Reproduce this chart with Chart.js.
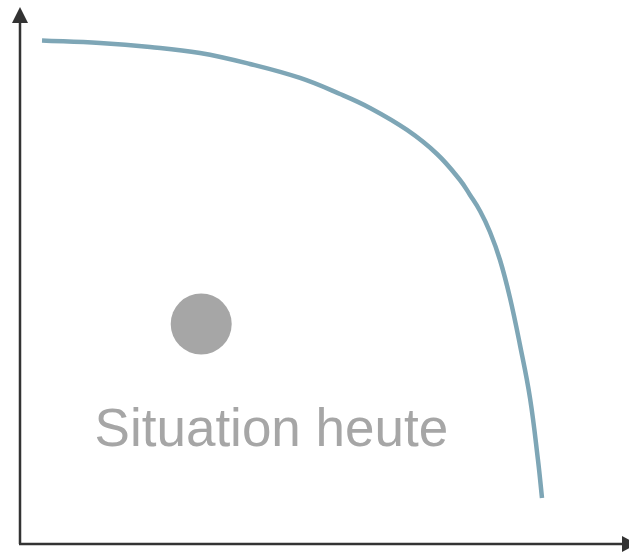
<!DOCTYPE html>
<html>
<head>
<meta charset="utf-8">
<script src="https://cdn.jsdelivr.net/npm/chart.js@4/dist/chart.umd.min.js"></script>
<style>
    body { margin: 0; background: #fff; }
    #wrap { width: 629px; height: 553px; position: relative; }
</style>
</head>
<body>
<div id="wrap"><canvas id="charFrontier"></canvas></div>
<script>
// curve (x and y in axis units, origin at the axes corner)
const curveX = [3.67, 13.33, 21.67, 30, 38.33, 46.67, 53.33, 58.33, 64.5, 69.5, 73.33, 75, 76.67, 78.33, 80, 81.67, 83.33, 85, 86.33, 87];
const curveY = [96.83, 96.35, 95.58, 94.42, 92.31, 89.62, 86.54, 83.85, 79.62, 75, 70, 67.12, 64.04, 60, 54.62, 47.31, 38.27, 28.08, 16.15, 8.85];

const todayX = [30.2];
const todayY = [42.3];
const todayLabel = 'Situation heute';
const labelPos = [41.9, 18.8];

const axesArrows = {
    id: 'axesArrows',
    afterDraw: function (chart) {
        const ctx = chart.ctx;
        const a = chart.chartArea;
        ctx.save();
        ctx.strokeStyle = '#333333';
        ctx.fillStyle = '#333333';
        ctx.lineWidth = 2.5;
        ctx.beginPath();
        ctx.moveTo(a.left, a.bottom);
        ctx.lineTo(a.left, a.top - 4);
        ctx.moveTo(a.left - 1, a.bottom);
        ctx.lineTo(a.right + 4, a.bottom);
        ctx.stroke();
        // arrow heads
        ctx.beginPath();
        ctx.moveTo(a.left, a.top - 17);
        ctx.lineTo(a.left - 8, a.top - 1);
        ctx.lineTo(a.left + 8, a.top - 1);
        ctx.closePath();
        ctx.fill();
        ctx.beginPath();
        ctx.moveTo(a.right + 17, a.bottom);
        ctx.lineTo(a.right + 2, a.bottom - 8);
        ctx.lineTo(a.right + 2, a.bottom + 8);
        ctx.closePath();
        ctx.fill();
        ctx.restore();
    }
};

const pointLabel = {
    id: 'pointLabel',
    afterDatasetsDraw: function (chart) {
        const ctx = chart.ctx;
        const x = chart.scales.x.getPixelForValue(labelPos[0]);
        const y = chart.scales.y.getPixelForValue(labelPos[1]);
        ctx.save();
        ctx.font = '53px "Liberation Sans", Arial, sans-serif';
        ctx.fillStyle = '#a6a6a6';
        ctx.textAlign = 'center';
        ctx.textBaseline = 'alphabetic';
        ctx.fillText(todayLabel, x, y);
        ctx.restore();
    }
};

const ctxFrontier = document.getElementById('charFrontier');
const charFrontier = new Chart(ctxFrontier, {
    type: 'scatter',
    data: {
        datasets: [{
            label: 'Kurve',
            data: curveX.map((x, i) => ({ x: x, y: curveY[i] })),
            showLine: true,
            borderColor: '#7ea6b6',
            borderWidth: 4.5,
            borderCapStyle: 'butt',
            tension: 0.4,
            pointRadius: 0,
            fill: false
        }, {
            label: todayLabel,
            data: todayX.map((x, i) => ({ x: x, y: todayY[i] })),
            backgroundColor: '#a6a6a6',
            borderWidth: 0,
            pointRadius: 30.5,
            pointHoverRadius: 30.5
        }]
    },
    options: {
        responsive: true,
        maintainAspectRatio: false,
        animation: false,
        layout: {
            autoPadding: false,
            padding: { left: 20, right: 9, top: 24, bottom: 9 }
        },
        plugins: {
            legend: { display: false },
            tooltip: { enabled: false }
        },
        scales: {
            x: { type: 'linear', min: 0, max: 100, display: false },
            y: { type: 'linear', min: 0, max: 100, display: false }
        }
    },
    plugins: [axesArrows, pointLabel]
});
</script>
</body>
</html>
